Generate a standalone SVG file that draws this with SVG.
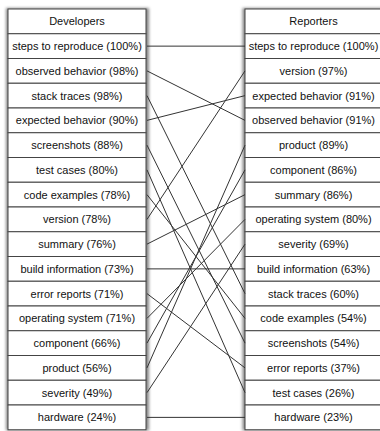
<svg xmlns="http://www.w3.org/2000/svg" width="380" height="431" viewBox="0 0 380 431">
<defs>
<filter id="sh" x="-10%" y="-5%" width="120%" height="110%"><feGaussianBlur stdDeviation="1.4"/></filter>
<style>
.c rect{fill:#fff;stroke:#444;stroke-width:1}
.c text{font-family:"Liberation Sans",Arial,sans-serif;font-size:11px;fill:#111;text-anchor:middle}
#links line{stroke:#333;stroke-width:1}
.shadow{fill:#888;filter:url(#sh)}
</style>
</defs>
<rect class="shadow" x="6" y="8" width="143" height="422.5"/>
<rect class="shadow" x="242.5" y="8" width="143" height="422.5"/>
<g id="developers">
<g id="d0" class="c"><rect x="8" y="9" width="138" height="24.75"/><text x="77" y="25.4">Developers</text></g>
<g id="d1" class="c"><rect x="8" y="33.75" width="138" height="24.75"/><text x="77" y="50.1">steps to reproduce (100%)</text></g>
<g id="d2" class="c"><rect x="8" y="58.5" width="138" height="24.75"/><text x="77" y="74.9">observed behavior (98%)</text></g>
<g id="d3" class="c"><rect x="8" y="83.25" width="138" height="24.75"/><text x="77" y="99.6">stack traces (98%)</text></g>
<g id="d4" class="c"><rect x="8" y="108" width="138" height="24.75"/><text x="77" y="124.4">expected behavior (90%)</text></g>
<g id="d5" class="c"><rect x="8" y="132.75" width="138" height="24.75"/><text x="77" y="149.1">screenshots (88%)</text></g>
<g id="d6" class="c"><rect x="8" y="157.5" width="138" height="24.75"/><text x="77" y="173.9">test cases (80%)</text></g>
<g id="d7" class="c"><rect x="8" y="182.25" width="138" height="24.75"/><text x="77" y="198.6">code examples (78%)</text></g>
<g id="d8" class="c"><rect x="8" y="207" width="138" height="24.75"/><text x="77" y="223.4">version (78%)</text></g>
<g id="d9" class="c"><rect x="8" y="231.75" width="138" height="24.75"/><text x="77" y="248.1">summary (76%)</text></g>
<g id="d10" class="c"><rect x="8" y="256.5" width="138" height="24.75"/><text x="77" y="272.9">build information (73%)</text></g>
<g id="d11" class="c"><rect x="8" y="281.25" width="138" height="24.75"/><text x="77" y="297.6">error reports (71%)</text></g>
<g id="d12" class="c"><rect x="8" y="306" width="138" height="24.75"/><text x="77" y="322.4">operating system (71%)</text></g>
<g id="d13" class="c"><rect x="8" y="330.75" width="138" height="24.75"/><text x="77" y="347.1">component (66%)</text></g>
<g id="d14" class="c"><rect x="8" y="355.5" width="138" height="24.75"/><text x="77" y="371.9">product (56%)</text></g>
<g id="d15" class="c"><rect x="8" y="380.25" width="138" height="24.75"/><text x="77" y="396.6">severity (49%)</text></g>
<g id="d16" class="c"><rect x="8" y="405" width="138" height="24.75"/><text x="77" y="421.4">hardware (24%)</text></g>
</g>
<g id="reporters">
<g id="r0" class="c"><rect x="245" y="9" width="138" height="24.75"/><text x="313.5" y="25.4">Reporters</text></g>
<g id="r1" class="c"><rect x="245" y="33.75" width="138" height="24.75"/><text x="313.5" y="50.1">steps to reproduce (100%)</text></g>
<g id="r2" class="c"><rect x="245" y="58.5" width="138" height="24.75"/><text x="313.5" y="74.9">version (97%)</text></g>
<g id="r3" class="c"><rect x="245" y="83.25" width="138" height="24.75"/><text x="313.5" y="99.6">expected behavior (91%)</text></g>
<g id="r4" class="c"><rect x="245" y="108" width="138" height="24.75"/><text x="313.5" y="124.4">observed behavior (91%)</text></g>
<g id="r5" class="c"><rect x="245" y="132.75" width="138" height="24.75"/><text x="313.5" y="149.1">product (89%)</text></g>
<g id="r6" class="c"><rect x="245" y="157.5" width="138" height="24.75"/><text x="313.5" y="173.9">component (86%)</text></g>
<g id="r7" class="c"><rect x="245" y="182.25" width="138" height="24.75"/><text x="313.5" y="198.6">summary (86%)</text></g>
<g id="r8" class="c"><rect x="245" y="207" width="138" height="24.75"/><text x="313.5" y="223.4">operating system (80%)</text></g>
<g id="r9" class="c"><rect x="245" y="231.75" width="138" height="24.75"/><text x="313.5" y="248.1">severity (69%)</text></g>
<g id="r10" class="c"><rect x="245" y="256.5" width="138" height="24.75"/><text x="313.5" y="272.9">build information (63%)</text></g>
<g id="r11" class="c"><rect x="245" y="281.25" width="138" height="24.75"/><text x="313.5" y="297.6">stack traces (60%)</text></g>
<g id="r12" class="c"><rect x="245" y="306" width="138" height="24.75"/><text x="313.5" y="322.4">code examples (54%)</text></g>
<g id="r13" class="c"><rect x="245" y="330.75" width="138" height="24.75"/><text x="313.5" y="347.1">screenshots (54%)</text></g>
<g id="r14" class="c"><rect x="245" y="355.5" width="138" height="24.75"/><text x="313.5" y="371.9">error reports (37%)</text></g>
<g id="r15" class="c"><rect x="245" y="380.25" width="138" height="24.75"/><text x="313.5" y="396.6">test cases (26%)</text></g>
<g id="r16" class="c"><rect x="245" y="405" width="138" height="24.75"/><text x="313.5" y="421.4">hardware (23%)</text></g>
</g>
<g id="links">
<line x1="147" y1="46.125" x2="245" y2="46.125"/>
<line x1="147" y1="70.875" x2="245" y2="120.375"/>
<line x1="147" y1="95.625" x2="245" y2="293.625"/>
<line x1="147" y1="120.375" x2="245" y2="95.625"/>
<line x1="147" y1="145.125" x2="245" y2="343.125"/>
<line x1="147" y1="169.875" x2="245" y2="392.625"/>
<line x1="147" y1="194.625" x2="245" y2="318.375"/>
<line x1="147" y1="219.375" x2="245" y2="70.875"/>
<line x1="147" y1="244.125" x2="245" y2="194.625"/>
<line x1="147" y1="268.875" x2="245" y2="268.875"/>
<line x1="147" y1="293.625" x2="245" y2="367.875"/>
<line x1="147" y1="318.375" x2="245" y2="219.375"/>
<line x1="147" y1="343.125" x2="245" y2="169.875"/>
<line x1="147" y1="367.875" x2="245" y2="145.125"/>
<line x1="147" y1="392.625" x2="245" y2="244.125"/>
<line x1="147" y1="417.375" x2="245" y2="417.375"/>
</g>
</svg>
